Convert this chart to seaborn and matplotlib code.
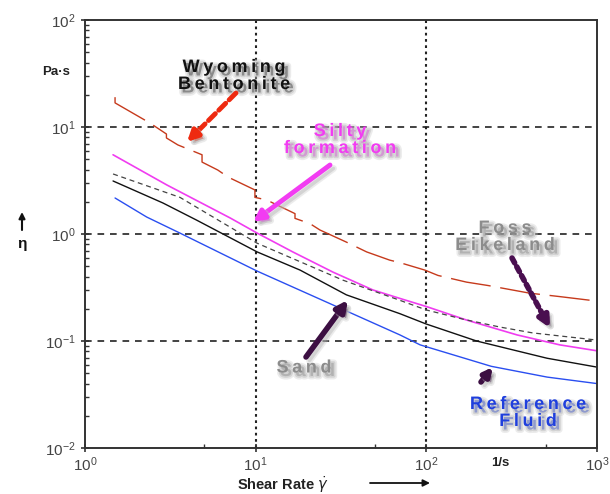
import matplotlib
matplotlib.use("Agg")
import matplotlib.pyplot as plt
import matplotlib.patheffects as pe
from matplotlib.ticker import LogLocator, FixedLocator, NullFormatter
import seaborn as sns

# shear rate (1/s) and viscosity (Pa·s)
wyoming_rate = [1.5, 1.5, 2.4, 3.0, 3.0, 3.5, 4.85, 4.85, 6.0, 6.9, 9.9, 9.9, 11.6,
                17, 17, 20.8, 23.8, 34, 44.7, 61, 70, 98, 117, 172, 230, 403, 605, 1000]
wyoming_eta = [19, 16.8, 10.9, 8.6, 7.9, 6.8, 5.5, 4.7, 3.96, 3.4, 2.58, 2.2, 2.08,
               1.55, 1.4, 1.25, 1.09, 0.84, 0.68, 0.57, 0.54, 0.46, 0.41, 0.355, 0.33, 0.28, 0.26, 0.236]

silty_rate = [1.46, 3.02, 7.1, 10.2, 16.5, 28.4, 48.6, 70, 100, 172, 340, 605, 1000]
silty_eta = [5.5, 2.87, 1.41, 1.02, 0.68, 0.44, 0.30, 0.25, 0.21, 0.157, 0.114, 0.092, 0.081]

foss_rate = [1.46, 3.6, 10.2, 32.5, 70, 100, 164, 270, 420, 1000]
foss_eta = [3.64, 2.2, 0.82, 0.37, 0.24, 0.195, 0.16, 0.135, 0.119, 0.102]

sand_rate = [1.46, 2.86, 4.5, 10.2, 18.2, 34, 70, 100, 197, 510, 1000]
sand_eta = [3.13, 1.95, 1.35, 0.68, 0.46, 0.27, 0.18, 0.144, 0.10, 0.069, 0.057]

ref_rate = [1.5, 2.3, 3.6, 10.2, 28.4, 70, 92, 240, 510, 1000]
ref_eta = [2.17, 1.44, 1.02, 0.45, 0.217, 0.114, 0.092, 0.058, 0.046, 0.040]

sns.set_style("white")
plt.rcParams["font.family"] = ["Liberation Sans", "DejaVu Sans"]

W, H = 610, 494
fig = plt.figure(figsize=(W / 100, H / 100), dpi=100)
ax = fig.add_axes([85 / W, (H - 448) / H, 512 / W, 428 / H])
ax.set_xscale("log")
ax.set_yscale("log")

sns.lineplot(x=wyoming_rate, y=wyoming_eta, ax=ax, estimator=None, sort=False,
             color="#c63a1c", linewidth=1.0, linestyle=(0, (29, 7)))
sns.lineplot(x=silty_rate, y=silty_eta, ax=ax, estimator=None, sort=False,
             color="#f03cf0", linewidth=1.2)
sns.lineplot(x=foss_rate, y=foss_eta, ax=ax, estimator=None, sort=False,
             color="#444444", linewidth=0.9, linestyle=(0, (4, 3)))
sns.lineplot(x=sand_rate, y=sand_eta, ax=ax, estimator=None, sort=False,
             color="#111111", linewidth=1.0)
sns.lineplot(x=ref_rate, y=ref_eta, ax=ax, estimator=None, sort=False,
             color="#2a4ef0", linewidth=1.0)

ax.set_xlim(1, 1000)
ax.set_ylim(0.01, 100)

# grid: dashed horizontals, dotted verticals
for v in [10, 1, 0.1]:
    ax.axhline(v, color="#222222", lw=1.2, ls=(0, (4, 3.5)), zorder=0)
for v in [10, 100]:
    ax.axvline(v, color="#222222", lw=1.5, ls=(0, (1.3, 1.7)), zorder=0)

for s in ax.spines.values():
    s.set_color("#333333")
    s.set_linewidth(1.4)

ax.xaxis.set_minor_locator(FixedLocator([5, 50, 500]))
ax.xaxis.set_minor_formatter(NullFormatter())
ax.yaxis.set_minor_locator(LogLocator(base=10, subs=range(2, 10)))
ax.yaxis.set_minor_formatter(NullFormatter())
ax.tick_params(which="major", direction="inout", length=6, width=1.2,
               color="#333333", labelsize=11, labelcolor="#444444", pad=4,
               bottom=True, left=True, top=False, right=False)
ax.tick_params(which="minor", direction="in", length=3, width=1.0,
               color="#333333", bottom=True, left=True, top=False, right=False)
ax.tick_params(axis="x", pad=2)
ax.set_xlabel("")
ax.set_ylabel("")


def px(x, y):
    return (x, H - y)


# soft grey drop shadow under the callout texts and arrows
shadow = [pe.Stroke(linewidth=5, foreground="#c8c8c8", alpha=0.35, offset=(2.5, -2.5)),
          pe.Stroke(linewidth=2.5, foreground="#a8a8a8", alpha=0.35, offset=(2.5, -2.5)),
          pe.Normal()]
TS = "\u2009"


def spaced(word):
    return TS.join(word)


def label(text, x, y, color, size=13):
    ax.annotate(text, xy=px(x, y), xycoords="figure pixels", ha="center", va="center",
                color=color, fontsize=size, fontweight="bold", linespacing=1.0,
                path_effects=shadow, annotation_clip=False)


def arrow(x0, y0, x1, y1, color, ls="-", lw=3.5, head=14):
    ax.annotate("", xy=px(x1, y1), xytext=px(x0, y0), xycoords="figure pixels",
                textcoords="figure pixels", annotation_clip=False,
                arrowprops=dict(arrowstyle="-|>", color=color, lw=lw, ls=ls,
                                mutation_scale=head, shrinkA=0, shrinkB=0,
                                path_effects=shadow))


def dashed_arrow(x0, y0, x1, y1, color, dash, lw=3.5):
    fx = x0 + (x1 - x0) * 0.8
    fy = y0 + (y1 - y0) * 0.8
    ax.annotate("", xy=px(fx, fy), xytext=px(x0, y0), xycoords="figure pixels",
                textcoords="figure pixels", annotation_clip=False,
                arrowprops=dict(arrowstyle="-", color=color, lw=lw, ls=dash,
                                shrinkA=0, shrinkB=0))
    arrow(fx, fy, x1, y1, color, lw=lw, head=16)


label(spaced("Wyoming") + "\n" + spaced("Bentonite"), 234, 76, "#111111")
label(spaced("Silty") + "\n" + spaced("formation"), 340, 140, "#f23cf2")
label(spaced("Foss") + "\n" + spaced("Eikeland"), 505, 237, "#8c8c8c")
label(spaced("Sand"), 304, 368, "#8c8c8c")
label(spaced("Reference") + "\n" + spaced("Fluid"), 528, 413, "#1f3fdd")

dashed_arrow(236, 93, 187, 142, "#ee2a10", (0, (2.0, 1.0)))
arrow(330, 165, 253, 222, "#f23cf2", lw=3.5, head=16)
dashed_arrow(512, 258, 550, 328, "#4a0f50", (0, (1.0, 0.8)), lw=4)
arrow(306, 357, 348, 300, "#3c0f42", lw=4, head=16)
arrow(481, 382, 493, 367, "#3c0f42", lw=4, head=12)

# axis annotations
fig.text(70, H - 72, "Pa·s", transform=None, ha="right", va="center",
         fontsize=9.5, fontweight="bold", color="#222222")
ax.annotate("", xy=px(22, 212), xytext=px(22, 230), xycoords="figure pixels",
            textcoords="figure pixels", annotation_clip=False,
            arrowprops=dict(arrowstyle="-|>", color="#111111", lw=1.5, mutation_scale=9,
                            shrinkA=0, shrinkB=0))
fig.text(22, H - 244, "η", transform=None, ha="center", va="center",
         fontsize=11, fontweight="bold", color="#111111")
fig.text(500, H - 463, "1/s", transform=None, ha="center", va="center",
         fontsize=9.5, fontweight="bold", color="#222222")
fig.text(283, H - 490, r"Shear Rate $\dot{\gamma}$", transform=None, ha="center", va="baseline",
         fontsize=10.5, fontweight="bold", color="#222222")
ax.annotate("", xy=px(430, 483), xytext=px(370, 483), xycoords="figure pixels",
            textcoords="figure pixels", annotation_clip=False,
            arrowprops=dict(arrowstyle="-|>", color="#111111", lw=1.3, mutation_scale=10,
                            shrinkA=0, shrinkB=0))

fig.savefig("out.png", dpi=100)
